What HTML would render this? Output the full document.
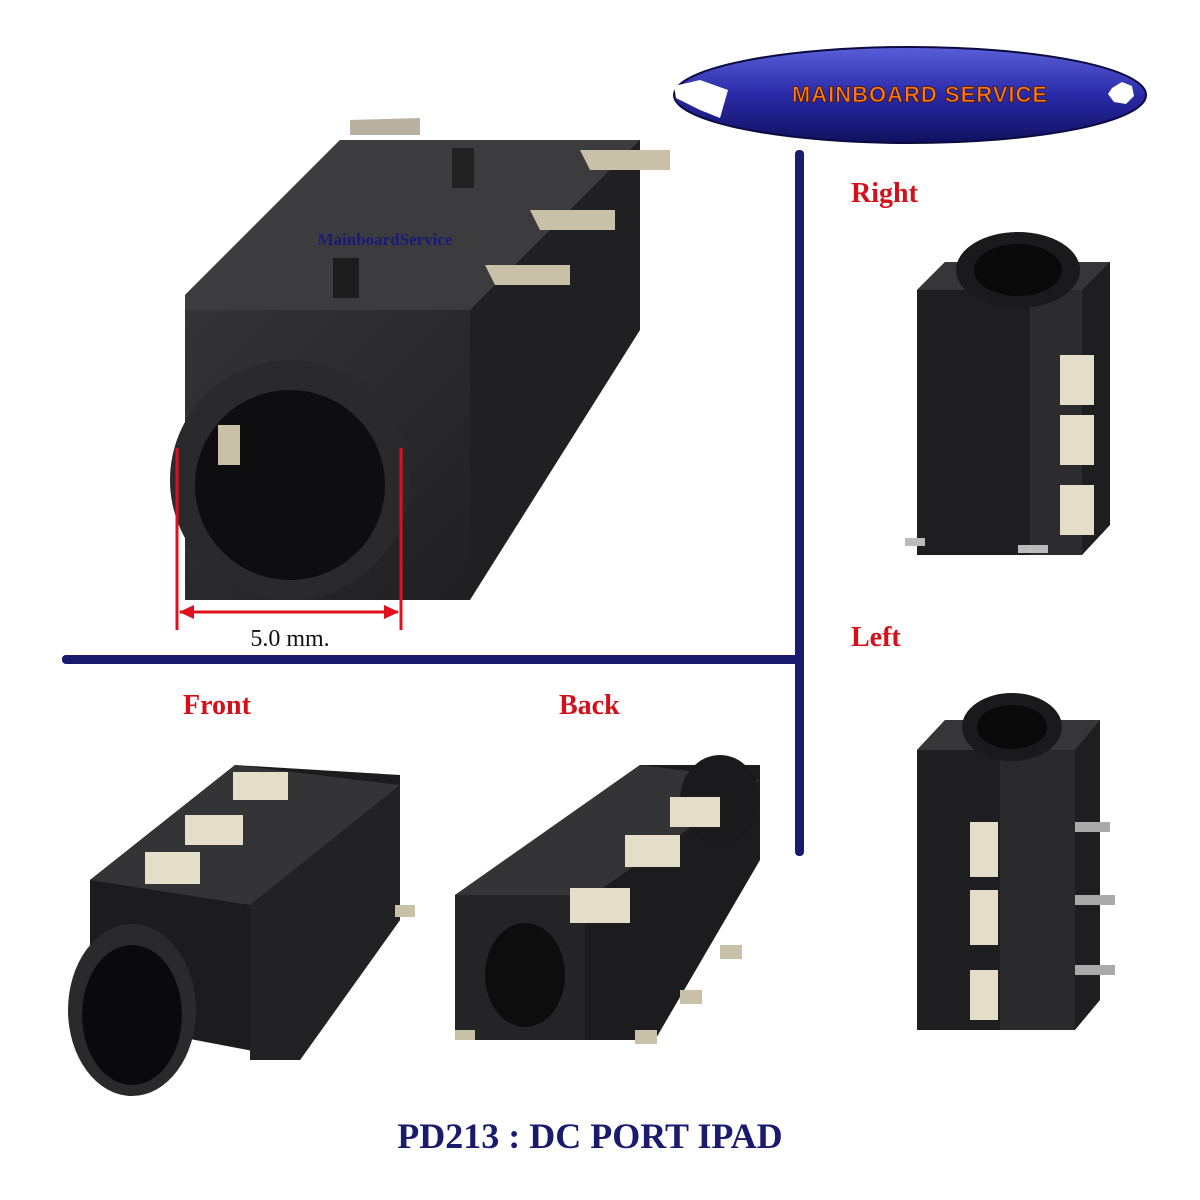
<!DOCTYPE html>
<html><head><meta charset="utf-8"><style>
html,body{margin:0;padding:0;background:#fff}
svg{display:block}
</style></head><body>
<svg width="1200" height="1200" viewBox="0 0 1200 1200" xmlns="http://www.w3.org/2000/svg">
<defs>
<linearGradient id="blk" x1="0" y1="0" x2="1" y2="1"><stop offset="0" stop-color="#3a3a3c"/><stop offset="1" stop-color="#1a1a1c"/></linearGradient>
<linearGradient id="logo" x1="0" y1="0" x2="0" y2="1"><stop offset="0" stop-color="#5a5ed8"/><stop offset="0.5" stop-color="#2a2aa8"/><stop offset="1" stop-color="#101060"/></linearGradient>
</defs>
<rect width="1200" height="1200" fill="#fff"/>
<!-- navy lines -->
<rect x="62" y="655" width="740" height="9" rx="4" fill="#1a1a6e"/>
<rect x="795" y="150" width="9" height="706" rx="4" fill="#1a1a6e"/>
<!-- logo -->
<ellipse cx="910" cy="95" rx="236" ry="48" fill="url(#logo)" stroke="#0b0b40" stroke-width="2"/>
<path d="M674 86 L700 80 L728 90 L720 118 L700 110 L676 98Z" fill="#fff"/>
<polygon points="1112,88 1122,82 1132,86 1134,96 1126,104 1114,102 1108,94" fill="#fff"/>
<text x="920" y="102" text-anchor="middle" font-family="Liberation Sans, sans-serif" font-weight="bold" font-size="22" fill="#ff7a10" stroke="#401000" stroke-width="0.8" letter-spacing="1">MAINBOARD SERVICE</text>

<!-- main large jack -->
<g>
<polygon points="350,120 420,118 420,135 350,135" fill="#b8b0a0"/>
<polygon points="185,295 340,140 640,140 640,175 470,345 470,600 185,600" fill="url(#blk)"/>
<polygon points="185,295 340,140 640,140 470,310 185,310" fill="#3c3c3e"/>
<polygon points="470,310 640,140 640,330 470,600" fill="#202022"/>
<rect x="452" y="148" width="22" height="40" fill="#222"/>
<rect x="333" y="258" width="26" height="40" fill="#1c1c1c"/>
<polygon points="580,150 670,150 670,170 590,170" fill="#c9c0a8"/>
<polygon points="530,210 615,210 615,230 540,230" fill="#c9c0a8"/>
<polygon points="485,265 570,265 570,285 495,285" fill="#c9c0a8"/>
<circle cx="290" cy="480" r="120" fill="#2a2a2c"/>
<circle cx="290" cy="485" r="95" fill="#0e0e10"/>
<rect x="218" y="425" width="22" height="40" fill="#c9c0a8"/>
<text x="385" y="245" text-anchor="middle" font-family="Liberation Serif, serif" font-weight="bold" font-size="17" fill="#1a1a7a">MainboardService</text>
<line x1="177" y1="448" x2="177" y2="630" stroke="#e0101c" stroke-width="3"/>
<line x1="401" y1="448" x2="401" y2="630" stroke="#e0101c" stroke-width="3"/>
<line x1="180" y1="612" x2="398" y2="612" stroke="#e0101c" stroke-width="3"/>
<polygon points="179,612 194,605 194,619" fill="#e0101c"/>
<polygon points="399,612 384,605 384,619" fill="#e0101c"/>
<text x="290" y="646" text-anchor="middle" font-family="Liberation Serif, serif" font-size="24" fill="#111">5.0 mm.</text>
</g>

<!-- labels -->
<g font-family="Liberation Serif, serif" font-weight="bold" font-size="28" fill="#d4101a">
<text x="851" y="202">Right</text>
<text x="851" y="646">Left</text>
<text x="183" y="714">Front</text>
<text x="559" y="714">Back</text>
</g>

<!-- Right jack -->
<g>
<polygon points="917,290 945,262 1110,262 1110,525 1082,555 917,555" fill="#1e1e20"/>
<polygon points="917,290 945,262 1110,262 1082,290" fill="#363638"/>
<rect x="1030" y="290" width="52" height="265" fill="#2c2c2e"/>
<ellipse cx="1018" cy="270" rx="62" ry="38" fill="#1a1a1c"/>
<ellipse cx="1018" cy="270" rx="44" ry="26" fill="#0a0a0a"/>
<rect x="1060" y="355" width="34" height="50" fill="#e4ddc8"/>
<rect x="1060" y="415" width="34" height="50" fill="#e4ddc8"/>
<rect x="1060" y="485" width="34" height="50" fill="#e4ddc8"/>
<rect x="905" y="538" width="20" height="8" fill="#bbb"/>
<rect x="1018" y="545" width="30" height="8" fill="#bbb"/>
</g>

<!-- Left jack -->
<g>
<polygon points="917,750 945,720 1100,720 1100,1000 1075,1030 917,1030" fill="#1e1e20"/>
<polygon points="917,750 945,720 1100,720 1075,750" fill="#363638"/>
<rect x="1000" y="750" width="75" height="280" fill="#2a2a2c"/>
<ellipse cx="1012" cy="727" rx="50" ry="34" fill="#1a1a1c"/>
<ellipse cx="1012" cy="727" rx="35" ry="22" fill="#0a0a0a"/>
<rect x="970" y="822" width="28" height="55" fill="#e4ddc8"/>
<rect x="970" y="890" width="28" height="55" fill="#e4ddc8"/>
<rect x="970" y="970" width="28" height="50" fill="#e4ddc8"/>
<rect x="1075" y="822" width="35" height="10" fill="#aaa"/>
<rect x="1075" y="895" width="40" height="10" fill="#aaa"/>
<rect x="1075" y="965" width="40" height="10" fill="#aaa"/>
</g>

<!-- Front jack -->
<g>
<polygon points="90,880 235,765 400,775 400,920 300,1060 90,1020" fill="#1c1c1e"/>
<polygon points="90,880 235,765 400,785 250,905" fill="#343436"/>
<polygon points="250,905 400,785 400,920 300,1060 250,1060" fill="#222224"/>
<rect x="233" y="772" width="55" height="28" fill="#e4ddc8"/>
<rect x="185" y="815" width="58" height="30" fill="#e4ddc8"/>
<rect x="145" y="852" width="55" height="32" fill="#e4ddc8"/>
<rect x="395" y="905" width="20" height="12" fill="#c9c0a8"/>
<ellipse cx="132" cy="1010" rx="64" ry="86" fill="#2a2a2c"/>
<ellipse cx="132" cy="1015" rx="50" ry="70" fill="#0a0a0c"/>
</g>

<!-- Back jack -->
<g>
<polygon points="455,895 640,765 760,765 760,860 655,1040 455,1040" fill="#1c1c1e"/>
<polygon points="455,895 640,765 760,780 585,900" fill="#343436"/>
<rect x="455" y="895" width="130" height="145" fill="#242426"/>
<ellipse cx="720" cy="800" rx="40" ry="45" fill="#1a1a1c"/>
<ellipse cx="525" cy="975" rx="40" ry="52" fill="#0d0d0e"/>
<rect x="670" y="797" width="50" height="30" fill="#e4ddc8"/>
<rect x="625" y="835" width="55" height="32" fill="#e4ddc8"/>
<rect x="570" y="888" width="60" height="35" fill="#e4ddc8"/>
<rect x="720" y="945" width="22" height="14" fill="#c9c0a8"/>
<rect x="680" y="990" width="22" height="14" fill="#c9c0a8"/>
<rect x="635" y="1030" width="22" height="14" fill="#c9c0a8"/>
<rect x="455" y="1030" width="20" height="10" fill="#c9c0a8"/>
</g>

<text x="590" y="1148" text-anchor="middle" font-family="Liberation Serif, serif" font-weight="bold" font-size="36" fill="#1a1a6e">PD213 : DC PORT IPAD</text>
</svg>
</body></html>
